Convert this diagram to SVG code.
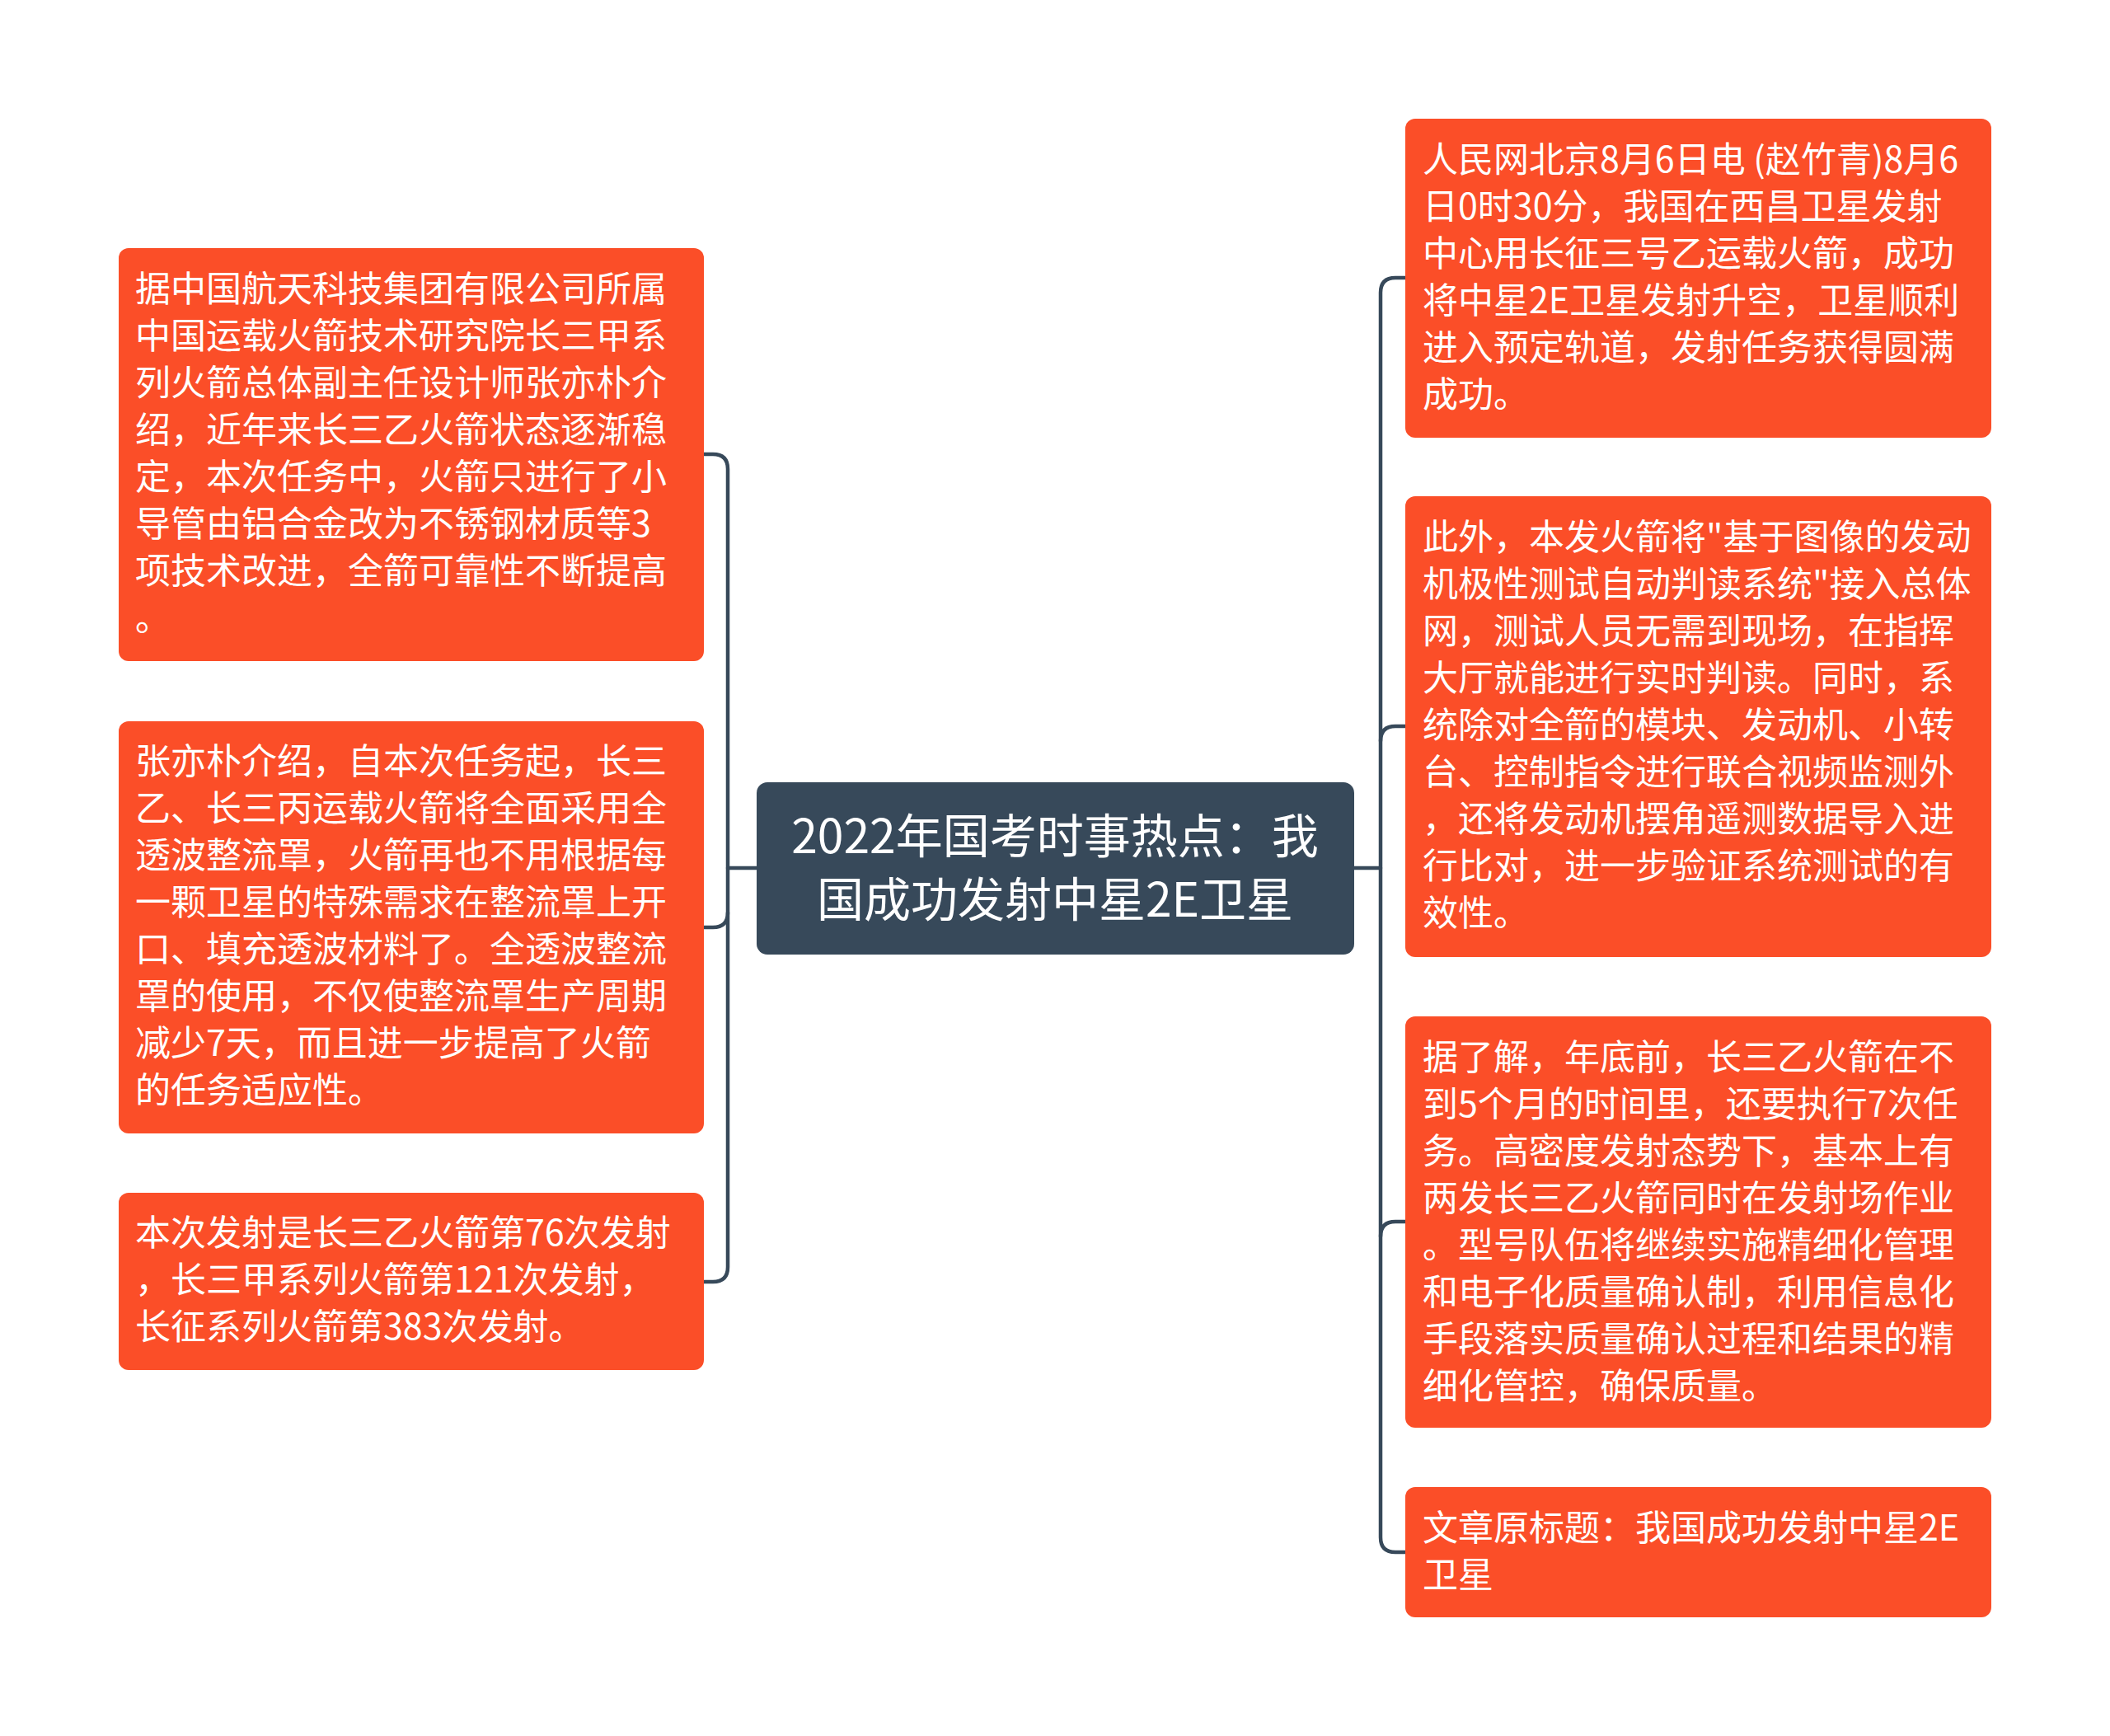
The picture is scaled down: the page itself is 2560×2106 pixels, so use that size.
<svg xmlns="http://www.w3.org/2000/svg" width="2560" height="2106" viewBox="0 0 2560 2106">
<style>
.bg{fill:#ffffff}
.leaf{fill:#fb4e28}
.root{fill:#37495a}
.t{font-family:"Noto Sans CJK SC","Noto Sans",sans-serif;font-size:43px;fill:#ffffff}
.rt{font-family:"Noto Sans CJK SC","Noto Sans",sans-serif;font-size:57px;fill:#ffffff;text-anchor:middle}
.c{fill:none;stroke:#37495a;stroke-width:4.5;stroke-linecap:round}
</style>
<rect class="bg" x="0" y="0" width="2560" height="2106"/>
<g id="connectors">
<path class="c" d="M918,1053 H883"/>
<path class="c" d="M854,551 H865 Q883,551 883,569 V1537 Q883,1555 865,1555 H854"/>
<path class="c" d="M854,1125 H865 Q883,1125 883,1107"/>
<path class="c" d="M1643,1053 H1675"/>
<path class="c" d="M1705,337 H1693 Q1675,337 1675,355 V1865 Q1675,1883 1693,1883 H1705"/>
<path class="c" d="M1705,881 H1693 Q1675,881 1675,899"/>
<path class="c" d="M1705,1482 H1693 Q1675,1482 1675,1500"/>
</g>
<g id="root">
<rect class="root" x="918" y="949" width="725" height="209" rx="13"/>
<text class="rt" x="1280" y="1035">2022年国考时事热点：我</text>
<text class="rt" x="1280" y="1112">国成功发射中星2E卫星</text>
</g>
<g id="left1">
<rect class="leaf" x="144" y="301" width="710" height="501" rx="12"/>
<text class="t" x="164" y="366">据中国航天科技集团有限公司所属</text>
<text class="t" x="164" y="423">中国运载火箭技术研究院长三甲系</text>
<text class="t" x="164" y="480">列火箭总体副主任设计师张亦朴介</text>
<text class="t" x="164" y="537">绍，近年来长三乙火箭状态逐渐稳</text>
<text class="t" x="164" y="594">定，本次任务中，火箭只进行了小</text>
<text class="t" x="164" y="651">导管由铝合金改为不锈钢材质等3</text>
<text class="t" x="164" y="708">项技术改进，全箭可靠性不断提高</text>
<text class="t" x="164" y="765">。</text>
</g>
<g id="left2">
<rect class="leaf" x="144" y="875" width="710" height="500" rx="12"/>
<text class="t" x="164" y="939">张亦朴介绍，自本次任务起，长三</text>
<text class="t" x="164" y="996">乙、长三丙运载火箭将全面采用全</text>
<text class="t" x="164" y="1053">透波整流罩，火箭再也不用根据每</text>
<text class="t" x="164" y="1110">一颗卫星的特殊需求在整流罩上开</text>
<text class="t" x="164" y="1167">口、填充透波材料了。全透波整流</text>
<text class="t" x="164" y="1224">罩的使用，不仅使整流罩生产周期</text>
<text class="t" x="164" y="1281">减少7天，而且进一步提高了火箭</text>
<text class="t" x="164" y="1338">的任务适应性。</text>
</g>
<g id="left3">
<rect class="leaf" x="144" y="1447" width="710" height="215" rx="12"/>
<text class="t" x="164" y="1511">本次发射是长三乙火箭第76次发射</text>
<text class="t" x="164" y="1568">，长三甲系列火箭第121次发射，</text>
<text class="t" x="164" y="1625">长征系列火箭第383次发射。</text>
</g>
<g id="right1">
<rect class="leaf" x="1705" y="144" width="711" height="387" rx="12"/>
<text class="t" x="1726" y="209">人民网北京8月6日电 (赵竹青)8月6</text>
<text class="t" x="1726" y="266">日0时30分，我国在西昌卫星发射</text>
<text class="t" x="1726" y="323">中心用长征三号乙运载火箭，成功</text>
<text class="t" x="1726" y="380">将中星2E卫星发射升空，卫星顺利</text>
<text class="t" x="1726" y="437">进入预定轨道，发射任务获得圆满</text>
<text class="t" x="1726" y="494">成功。</text>
</g>
<g id="right2">
<rect class="leaf" x="1705" y="602" width="711" height="559" rx="12"/>
<text class="t" x="1726" y="667">此外，本发火箭将"基于图像的发动</text>
<text class="t" x="1726" y="724">机极性测试自动判读系统"接入总体</text>
<text class="t" x="1726" y="781">网，测试人员无需到现场，在指挥</text>
<text class="t" x="1726" y="838">大厅就能进行实时判读。同时，系</text>
<text class="t" x="1726" y="895">统除对全箭的模块、发动机、小转</text>
<text class="t" x="1726" y="952">台、控制指令进行联合视频监测外</text>
<text class="t" x="1726" y="1009">，还将发动机摆角遥测数据导入进</text>
<text class="t" x="1726" y="1066">行比对，进一步验证系统测试的有</text>
<text class="t" x="1726" y="1123">效性。</text>
</g>
<g id="right3">
<rect class="leaf" x="1705" y="1233" width="711" height="499" rx="12"/>
<text class="t" x="1726" y="1298">据了解，年底前，长三乙火箭在不</text>
<text class="t" x="1726" y="1355">到5个月的时间里，还要执行7次任</text>
<text class="t" x="1726" y="1412">务。高密度发射态势下，基本上有</text>
<text class="t" x="1726" y="1469">两发长三乙火箭同时在发射场作业</text>
<text class="t" x="1726" y="1526">。型号队伍将继续实施精细化管理</text>
<text class="t" x="1726" y="1583">和电子化质量确认制，利用信息化</text>
<text class="t" x="1726" y="1640">手段落实质量确认过程和结果的精</text>
<text class="t" x="1726" y="1697">细化管控，确保质量。</text>
</g>
<g id="right4">
<rect class="leaf" x="1705" y="1804" width="711" height="158" rx="12"/>
<text class="t" x="1726" y="1869">文章原标题：我国成功发射中星2E</text>
<text class="t" x="1726" y="1926">卫星</text>
</g>
</svg>
